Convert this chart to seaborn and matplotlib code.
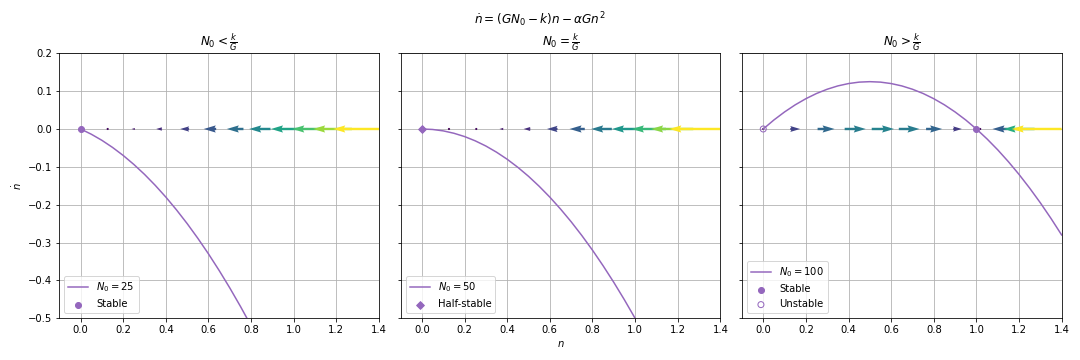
import numpy as np
import matplotlib
matplotlib.use("Agg")
import matplotlib.pyplot as plt
import seaborn as sns

# curve samples (n, ndot) for the three cases
n_curve = [0.0, 0.05, 0.1, 0.15, 0.2, 0.25, 0.3, 0.35, 0.4, 0.45, 0.5, 0.55, 0.6, 0.65, 0.7,
           0.75, 0.8, 0.85, 0.9, 0.95, 1.0, 1.05, 1.1, 1.15, 1.2, 1.25, 1.3, 1.35, 1.4]
ndot_low = [0.0, -0.0138, -0.030, -0.0488, -0.070, -0.0938, -0.120, -0.1488, -0.180, -0.2138,
            -0.250, -0.2888, -0.330, -0.3738, -0.420, -0.4688, -0.520, -0.5738, -0.630, -0.6888,
            -0.750, -0.8138, -0.880, -0.9488, -1.020, -1.0938, -1.170, -1.2488, -1.330]
ndot_eq = [0.0, -0.0013, -0.005, -0.0113, -0.020, -0.0313, -0.045, -0.0613, -0.080, -0.1013,
           -0.125, -0.1513, -0.180, -0.2113, -0.245, -0.2813, -0.320, -0.3613, -0.405, -0.4513,
           -0.500, -0.5513, -0.605, -0.6613, -0.720, -0.7813, -0.845, -0.9113, -0.980]
ndot_high = [0.0, 0.0238, 0.045, 0.0638, 0.080, 0.0938, 0.105, 0.1138, 0.120, 0.1238,
             0.125, 0.1238, 0.120, 0.1138, 0.105, 0.0938, 0.080, 0.0638, 0.045, 0.0238,
             0.0, -0.0263, -0.055, -0.0863, -0.120, -0.1563, -0.195, -0.2363, -0.280]

# flow arrows along the n axis
n_arrow = [0.0, 0.127, 0.255, 0.382, 0.509, 0.636, 0.764, 0.891, 1.018, 1.145, 1.273, 1.4]
u_low = [0.0, -0.040, -0.096, -0.168, -0.257, -0.361, -0.483, -0.620, -0.773, -0.941, -1.128, -1.330]
u_eq = [0.0, -0.008, -0.033, -0.073, -0.130, -0.202, -0.292, -0.397, -0.518, -0.655, -0.810, -0.980]
u_high = [0.0, 0.055, 0.095, 0.118, 0.125, 0.116, 0.090, 0.049, -0.009, -0.083, -0.174, -0.280]

titles = [r'$N_0 < \frac{k}{G}$', r'$N_0 = \frac{k}{G}$', r'$N_0 > \frac{k}{G}$']
labels = [r'$N_0 = 25$', r'$N_0 = 50$', r'$N_0 = 100$']
curves = [ndot_low, ndot_eq, ndot_high]
arrows = [u_low, u_eq, u_high]

# fixed points: (n, label, marker, filled)
fixed = [
    [(0.0, 'Stable', 'o', True)],
    [(0.0, 'Half-stable', 'D', True)],
    [(1.0, 'Stable', 'o', True), (0.0, 'Unstable', 'o', False)],
]

purple = 'tab:purple'

fig, axes = plt.subplots(1, 3, figsize=(15, 5), dpi=72, sharey=True)
fig.subplots_adjust(left=0.0549, right=0.983, top=0.852, bottom=0.116, wspace=0.0676)

for i, ax in enumerate(axes):
    ax.grid(True)
    ax.set_axisbelow(True)
    u = np.array(arrows[i])
    ax.quiver(n_arrow, np.zeros(len(n_arrow)), u, np.zeros(len(u)), np.abs(u), cmap='viridis')
    sns.lineplot(x=n_curve, y=curves[i], ax=ax, color=purple, label=labels[i])
    for x0, lab, mk, filled in fixed[i]:
        if filled:
            ax.scatter([x0], [0.0], color=purple, marker=mk, s=36 if mk == 'o' else 30,
                       label=lab, zorder=5)
        else:
            ax.scatter([x0], [0.0], facecolors='none', edgecolors=purple, marker=mk, s=36,
                       label=lab, zorder=5)
    ax.set_xlim(-0.1, 1.4)
    ax.set_ylim(-0.5, 0.2)
    ax.set_xticks([0.0, 0.2, 0.4, 0.6, 0.8, 1.0, 1.2, 1.4])
    ax.set_title(titles[i])
    ax.legend(loc='lower left')

axes[0].set_ylabel(r'$\dot{n}$')
axes[1].set_xlabel(r'$n$')
fig.suptitle(r'$\dot{n} = (GN_0 - k)n - \alpha G n^2$', y=0.972)

fig.savefig('out.png', dpi=72)
